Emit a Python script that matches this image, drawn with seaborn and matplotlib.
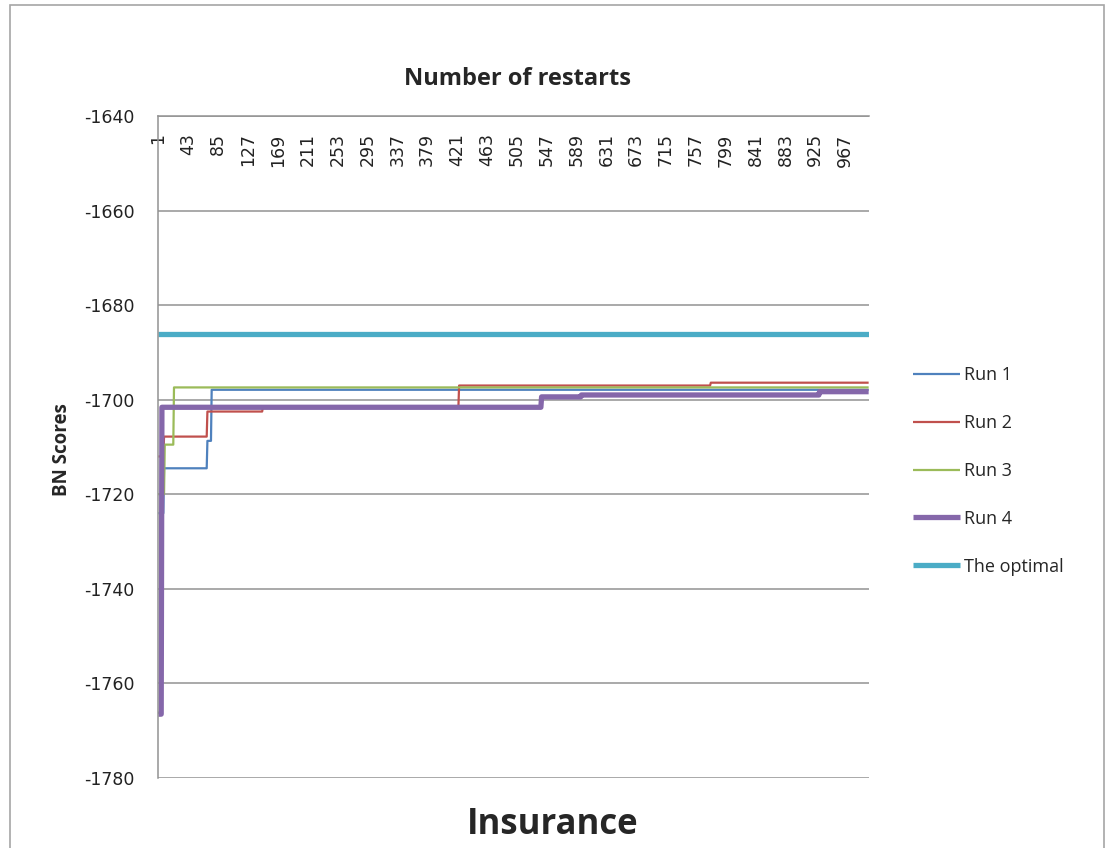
import numpy as np
import pandas as pd
import matplotlib
matplotlib.use("Agg")
import matplotlib.pyplot as plt
from matplotlib.patches import Rectangle
import seaborn as sns

# ---- data (step series: start restart index -> score) ----
n_restarts = 1000
run1_starts = [1, 9, 70, 76]
run1_values = [-1724.0, -1714.5, -1708.7, -1697.9]
run2_starts = [1, 9, 70, 148, 424, 778]
run2_values = [-1712.0, -1707.8, -1702.5, -1701.6, -1697.0, -1696.4]
run3_starts = [1, 10, 23]
run3_values = [-1720.0, -1709.5, -1697.4]
run4_starts = [1, 6, 540, 596, 931]
run4_values = [-1766.5, -1701.6, -1699.4, -1699.0, -1698.3]
optimal_value = -1686.2
series_names = ["Run 1", "Run 2", "Run 3", "Run 4", "The optimal"]
tick_labels = [str(v) for v in range(1, 968, 42)]
y_ticks = [-1780, -1760, -1740, -1720, -1700, -1680, -1660, -1640]


def expand(starts, values, n):
    out = np.empty(n)
    bounds = list(starts) + [n + 1]
    for i, v in enumerate(values):
        out[bounds[i] - 1:bounds[i + 1] - 1] = v
    return out


restarts = np.arange(1, n_restarts + 1)
df = pd.DataFrame({
    "restart": restarts,
    "Run 1": expand(run1_starts, run1_values, n_restarts),
    "Run 2": expand(run2_starts, run2_values, n_restarts),
    "Run 3": expand(run3_starts, run3_values, n_restarts),
    "Run 4": expand(run4_starts, run4_values, n_restarts),
    "The optimal": np.full(n_restarts, optimal_value),
})

sns.set_style("white")
plt.rcParams["font.family"] = ["DejaVu Sans"]

colors = {"Run 1": "#4F81BD", "Run 2": "#C0504D", "Run 3": "#9BBB59",
          "Run 4": "#8567AA", "The optimal": "#4BACC6"}
widths = {"Run 1": 1.6, "Run 2": 1.6, "Run 3": 1.6, "Run 4": 3.8, "The optimal": 3.8}

W, H = 1107, 848
fig = plt.figure(figsize=(W / 100, H / 100), dpi=100)
ax = fig.add_axes([158 / W, 1 - 778 / H, (869 - 158) / W, (778 - 116) / H])

for name in series_names:
    sns.lineplot(data=df, x="restart", y=name, color=colors[name],
                 linewidth=widths[name], ax=ax, label=name,
                 solid_capstyle="butt")

ax.set_xlim(0.5, n_restarts + 0.5)
ax.set_ylim(-1780, -1640)
ax.set_yticks(y_ticks)
ax.set_yticklabels([str(v) for v in y_ticks])
ax.grid(axis="y", color="#929292", linewidth=1.1)
ax.grid(axis="x", visible=False)
ax.set_axisbelow(True)

# category axis on top, labels drawn inside the plot area
ax.xaxis.set_ticks_position("top")
ax.set_xticks([int(t) for t in tick_labels])
ax.set_xticklabels(tick_labels, rotation=90, fontsize=12.5, color="#222222")
ax.tick_params(axis="x", length=0, pad=-12.5, labeltop=True, labelbottom=False)
for lbl in ax.get_xticklabels():
    lbl.set_va("top")
ax.tick_params(axis="y", length=0, pad=17, labelsize=12.5, labelcolor="#222222")

for side in ["right", "bottom"]:
    ax.spines[side].set_visible(False)
for side in ["left", "top"]:
    ax.spines[side].set_color("#929292")
    ax.spines[side].set_linewidth(1.1)

ax.set_xlabel("")
ax.set_ylabel("")

fig.text(62 / W, 1 - 450 / H, "BN Scores", rotation=90, ha="center", va="center",
         fontsize=13.5, fontweight="bold", family=["Open Sans", "DejaVu Sans"])
fig.text(518 / W, 1 - 79 / H, "Number of restarts", ha="center", va="center",
         fontsize=17, fontweight="bold", family=["Open Sans", "DejaVu Sans"])
fig.text(553 / W, 1 - 825 / H, "Insurance", ha="center", va="center",
         fontsize=25, fontweight="bold", family=["Open Sans", "DejaVu Sans"])

leg = ax.legend(loc="center left", bbox_to_anchor=(913 / W, 1 - 471 / H),
                bbox_transform=fig.transFigure, frameon=False, borderpad=0,
                borderaxespad=0, handlelength=2.6, handletextpad=0.25,
                labelspacing=1.65, prop={"family": ["Open Sans", "DejaVu Sans"], "size": 13})

fig.patches.append(Rectangle((10 / W, -0.05), (1104 - 10) / W, 1.05 - 5 / H,
                             transform=fig.transFigure, fill=False,
                             edgecolor="#a6a6a6", linewidth=1.2))

fig.savefig("out.png", dpi=100, facecolor="white")
